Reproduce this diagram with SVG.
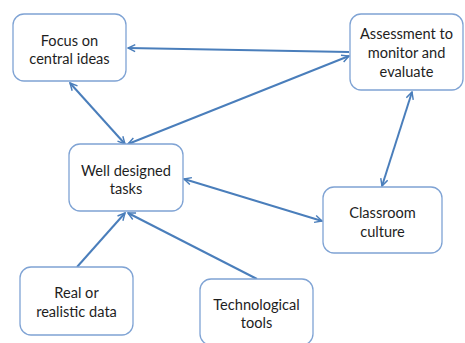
<svg xmlns="http://www.w3.org/2000/svg" width="465" height="343" viewBox="0 0 465 343">
<defs>
<marker id="ah" viewBox="0 0 10 10" refX="9" refY="5" markerWidth="9" markerHeight="9" markerUnits="userSpaceOnUse" orient="auto-start-reverse">
<path d="M1,1 L9,5 L1,9" fill="none" stroke="#4a7ebb" stroke-width="1.6"/>
</marker>
<style>
.box{fill:#fff;stroke:#7fa3d4;stroke-width:1.3}
.t{font-family:Lato,"Open Sans",sans-serif;font-size:14.6px;fill:#1e1e1e;text-anchor:middle}
.c{stroke:#4a7ebb;stroke-width:2;fill:none}
</style>
</defs>
<rect width="465" height="343" fill="#fff"/>
<g id="connectors">
<line class="c" x1="349" y1="52" x2="128" y2="48" marker-end="url(#ah)"/>
<line class="c" x1="128" y1="144" x2="349" y2="56" marker-start="url(#ah)" marker-end="url(#ah)"/>
<line class="c" x1="70" y1="83" x2="125" y2="144" marker-start="url(#ah)" marker-end="url(#ah)"/>
<line class="c" x1="412" y1="92" x2="382" y2="186" marker-start="url(#ah)" marker-end="url(#ah)"/>
<line class="c" x1="184" y1="179" x2="322" y2="221" marker-start="url(#ah)" marker-end="url(#ah)"/>
<line class="c" x1="77" y1="267" x2="125" y2="213" marker-end="url(#ah)"/>
<line class="c" x1="257" y1="279" x2="128" y2="213" marker-end="url(#ah)"/>
</g>
<g id="focus">
<rect class="box" x="13" y="14" width="113" height="67" rx="11"/>
<text class="t" x="69.5" y="46">Focus on</text>
<text class="t" x="69.5" y="64">central ideas</text>
</g>
<g id="assessment">
<rect class="box" x="350" y="14" width="113" height="76" rx="11"/>
<text class="t" x="406.5" y="39">Assessment to</text>
<text class="t" x="406.5" y="58">monitor and</text>
<text class="t" x="406.5" y="77">evaluate</text>
</g>
<g id="welldesigned">
<rect class="box" x="69" y="144" width="114" height="67" rx="11"/>
<text class="t" x="126" y="176">Well designed</text>
<text class="t" x="126" y="194">tasks</text>
</g>
<g id="classroom">
<rect class="box" x="323" y="187" width="119" height="66" rx="11"/>
<text class="t" x="382.5" y="218">Classroom</text>
<text class="t" x="382.5" y="237">culture</text>
</g>
<g id="real">
<rect class="box" x="20" y="267" width="113" height="68" rx="11"/>
<text class="t" x="76.5" y="298">Real or</text>
<text class="t" x="76.5" y="317">realistic data</text>
</g>
<g id="tech">
<rect class="box" x="200" y="279" width="113" height="66" rx="11"/>
<text class="t" x="256.5" y="310">Technological</text>
<text class="t" x="256.5" y="328">tools</text>
</g>
</svg>
